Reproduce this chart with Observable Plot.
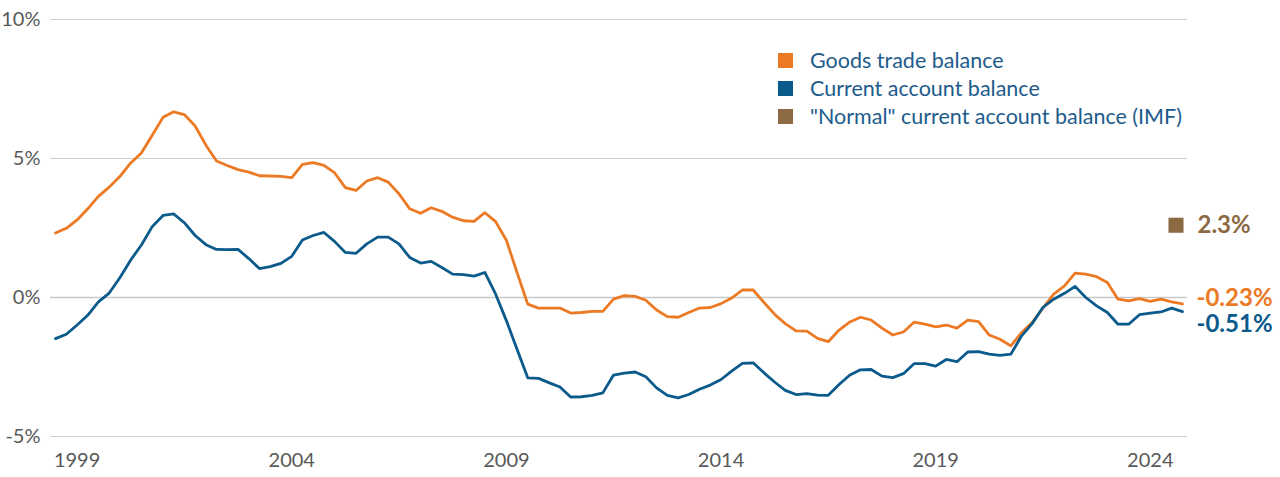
<!DOCTYPE html>
<html>
<head>
<meta charset="utf-8">
<script src="https://cdn.jsdelivr.net/npm/d3@7"></script>
<script src="https://cdn.jsdelivr.net/npm/@observablehq/plot@0.6"></script>
<style>
  html, body { margin: 0; padding: 0; background: #fff; }
  #wrap { position: relative; width: 1280px; height: 477px; font-family: Lato, "Open Sans", sans-serif; }
  .legend { position: absolute; left: 778px; top: 46px; }
  .legend .row { display: flex; align-items: center; height: 28px; }
  .legend .sw { width: 15px; height: 15px; margin-right: 17px; }
  .legend .lbl { font-size: 21.5px; color: #1d5b8c; white-space: nowrap; }
</style>
</head>
<body>
<div id="wrap"></div>
<script>
// Quarterly observations, first quarter = 1998 Q3
const startYear = 1998, startMonth = 6; // July (0-based)
const goodsTrade = [
  2.32, 2.49, 2.79, 3.19, 3.64, 3.97, 4.36, 4.84, 5.20, 5.84,
  6.48, 6.68, 6.58, 6.17, 5.48, 4.91, 4.75, 4.60, 4.51, 4.38,
  4.37, 4.36, 4.31, 4.79, 4.85, 4.75, 4.48, 3.95, 3.85, 4.19,
  4.31, 4.15, 3.73, 3.19, 3.03, 3.23, 3.10, 2.89, 2.76, 2.74,
  3.05, 2.73, 2.05, 0.90, -0.24, -0.38, -0.38, -0.38, -0.56, -0.54,
  -0.50, -0.50, -0.06, 0.07, 0.04, -0.10, -0.45, -0.69, -0.71, -0.54,
  -0.38, -0.36, -0.22, -0.02, 0.27, 0.27, -0.18, -0.60, -0.94, -1.20,
  -1.21, -1.47, -1.59, -1.17, -0.88, -0.71, -0.81, -1.10, -1.35, -1.24,
  -0.89, -0.96, -1.06, -0.99, -1.10, -0.81, -0.87, -1.35, -1.50, -1.74,
  -1.26, -0.90, -0.38, 0.12, 0.42, 0.88, 0.84, 0.75, 0.54, -0.06,
  -0.12, -0.04, -0.14, -0.06, -0.16, -0.23
];
const currentAccount = [
  -1.48, -1.32, -0.99, -0.64, -0.16, 0.16, 0.72, 1.35, 1.89, 2.55,
  2.95, 3.01, 2.69, 2.23, 1.90, 1.73, 1.72, 1.73, 1.40, 1.04,
  1.11, 1.23, 1.48, 2.07, 2.23, 2.34, 2.01, 1.62, 1.59, 1.93,
  2.17, 2.17, 1.93, 1.44, 1.24, 1.30, 1.08, 0.84, 0.82, 0.77,
  0.90, 0.12, -0.84, -1.86, -2.89, -2.91, -3.07, -3.22, -3.58, -3.57,
  -3.52, -3.43, -2.79, -2.72, -2.68, -2.85, -3.25, -3.52, -3.61, -3.49,
  -3.30, -3.15, -2.95, -2.65, -2.37, -2.35, -2.71, -3.04, -3.34, -3.49,
  -3.46, -3.51, -3.52, -3.13, -2.79, -2.60, -2.59, -2.83, -2.88, -2.74,
  -2.38, -2.38, -2.47, -2.23, -2.31, -1.96, -1.95, -2.04, -2.08, -2.04,
  -1.38, -0.94, -0.36, -0.06, 0.15, 0.40, 0.00, -0.30, -0.54, -0.96,
  -0.96, -0.62, -0.56, -0.52, -0.38, -0.51
];
const normalIMF = 2.3;          // label value
const normalIMFMarker = 2.6;    // drawn position as seen in the picture
const tickYears = [1999, 2004, 2009, 2014, 2019, 2024];
const yTicks = [-5, 0, 5, 10];
const seriesNames = ["Goods trade balance", "Current account balance", "\"Normal\" current account balance (IMF)"];
const colors = ["#ec7a24", "#0b5a8c", "#8c6a44"];

const quarters = goodsTrade.map((_, i) => new Date(Date.UTC(startYear, startMonth + 3 * i, 1)));
const rows = [];
goodsTrade.forEach((v, i) => rows.push({date: quarters[i], value: v, series: seriesNames[0]}));
currentAccount.forEach((v, i) => rows.push({date: quarters[i], value: v, series: seriesNames[1]}));
const last = quarters[quarters.length - 1];
const lastGoods = [{date: last, value: goodsTrade[goodsTrade.length - 1]}];
const lastCA = [{date: last, value: currentAccount[currentAccount.length - 1]}];
const imf = [{date: last, value: normalIMFMarker, label: normalIMF + "%"}];
const fmtPct = v => (v < 0 ? "-" : "") + Math.abs(v).toFixed(2) + "%";

const chart = Plot.plot({
  width: 1280,
  height: 477,
  marginLeft: 50,
  marginRight: 93,
  marginTop: 19,
  marginBottom: 41,
  style: {fontFamily: "Lato, 'Open Sans', sans-serif", fontSize: "20px", color: "#595959", background: "transparent"},
  x: {type: "utc", domain: [quarters[0], last], insetLeft: 5, insetRight: 5, label: null},
  y: {domain: [-5, 10], label: null},
  color: {domain: seriesNames.slice(0, 2), range: colors.slice(0, 2)},
  marks: [
    Plot.gridY(yTicks.filter(d => d !== 0), {stroke: "#cfcfcf", strokeOpacity: 1, strokeWidth: 1}),
    Plot.gridY([0], {stroke: "#c8c8c8", strokeOpacity: 1, strokeWidth: 1.6}),
    Plot.axisY(yTicks, {label: null, tickSize: 0, tickPadding: 10, tickFormat: d => d + "%", fill: "#595959", fontSize: 20}),
    Plot.axisX(tickYears.map(y => new Date(Date.UTC(y, 0, 1))), {label: null, tickSize: 0, tickPadding: 16, tickFormat: d => d3.utcFormat("%Y")(d), fill: "#595959", fontSize: 20}),
    Plot.line(rows, {x: "date", y: "value", stroke: "series", strokeWidth: 2.8, strokeLinejoin: "round", strokeLinecap: "round"}),
    Plot.dot(imf, {x: "date", y: "value", symbol: "square", r: 8.5, fill: colors[2], stroke: null, dx: -6.5}),
    Plot.text(imf, {x: "date", y: "value", text: "label", textAnchor: "start", dx: 15, fill: colors[2], fontSize: 24, fontWeight: "bold"}),
    Plot.text(lastGoods, {x: "date", y: "value", text: d => fmtPct(d.value), textAnchor: "start", dx: 14, dy: -6, fill: colors[0], fontSize: 24, fontWeight: "bold"}),
    Plot.text(lastCA, {x: "date", y: "value", text: d => fmtPct(d.value), textAnchor: "start", dx: 14, dy: 13, fill: colors[1], fontSize: 24, fontWeight: "bold"})
  ]
});
const wrap = document.getElementById("wrap");
wrap.appendChild(chart);

const legend = document.createElement("div");
legend.className = "legend";
seriesNames.forEach((name, i) => {
  const row = document.createElement("div");
  row.className = "row";
  const sw = document.createElement("div");
  sw.className = "sw";
  sw.style.background = colors[i];
  const lbl = document.createElement("div");
  lbl.className = "lbl";
  lbl.textContent = name;
  row.appendChild(sw); row.appendChild(lbl);
  legend.appendChild(row);
});
wrap.appendChild(legend);
</script>
</body>
</html>
